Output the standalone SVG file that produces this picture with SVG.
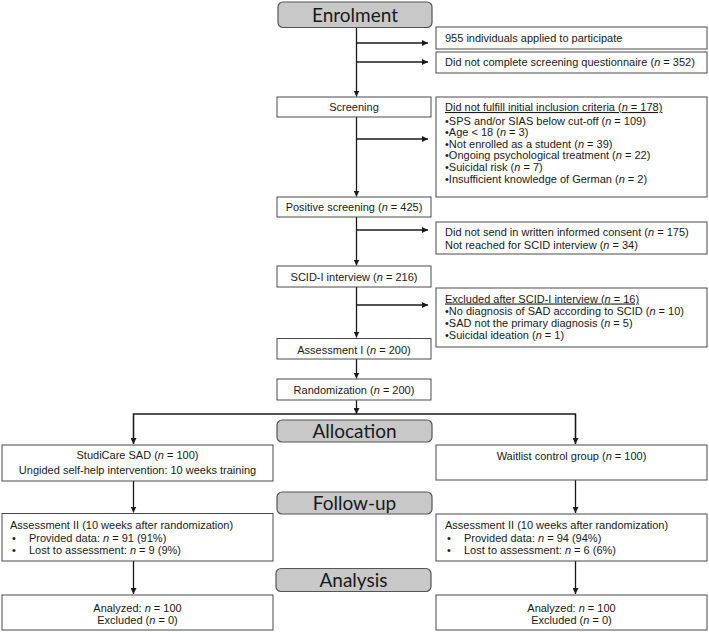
<svg xmlns="http://www.w3.org/2000/svg" width="709" height="632" viewBox="0 0 709 632">
<style>
.bg{fill:#ffffff}
.box{fill:#ffffff;stroke:#4a4a4a;stroke-width:1}
.hdr{fill:#c8c8c8;stroke:#555555;stroke-width:1.2}
.ht{font-family:Lato,"Open Sans","Liberation Sans",sans-serif;font-size:19px;fill:#1a1a1a;text-anchor:middle}
.t{font-family:"Liberation Sans",Arial,sans-serif;font-size:11px;fill:#1a1a1a}
.c{text-anchor:middle}
.i{font-style:italic}
.u{text-decoration:underline}
.ln{fill:none;stroke:#1a1a1a;stroke-width:1.3}
.ar{marker-end:url(#ah)}
</style>
<defs>
<marker id="ah" viewBox="0 0 8 8" refX="8" refY="4" markerWidth="6" markerHeight="6" markerUnits="userSpaceOnUse" orient="auto">
<path d="M0,0 L8,4 L0,8 z" fill="#1a1a1a"/>
</marker>
</defs>
<rect class="bg" x="0" y="0" width="709" height="632"/>

<g id="connectors">
<line class="ln ar" x1="356.5" y1="27" x2="356.5" y2="96.5"/>
<line class="ln ar" x1="356.5" y1="43" x2="428" y2="43"/>
<line class="ln ar" x1="356.5" y1="62" x2="428" y2="62"/>
<line class="ln ar" x1="356.5" y1="117" x2="356.5" y2="196.5"/>
<line class="ln ar" x1="356.5" y1="139" x2="428" y2="139"/>
<line class="ln ar" x1="356.5" y1="217" x2="356.5" y2="265.5"/>
<line class="ln ar" x1="356.5" y1="230" x2="428" y2="230"/>
<line class="ln ar" x1="356.5" y1="287" x2="356.5" y2="337.5"/>
<line class="ln ar" x1="356.5" y1="305" x2="428" y2="305"/>
<line class="ln ar" x1="356.5" y1="359" x2="356.5" y2="378.5"/>
<line class="ln ar" x1="356.5" y1="400" x2="356.5" y2="414"/>
<polyline class="ln" points="133.5,444 133.5,414 575.5,414 575.5,444"/>
<line class="ln ar" x1="133.5" y1="414" x2="133.5" y2="444"/>
<line class="ln ar" x1="575.5" y1="414" x2="575.5" y2="444"/>
<line class="ln ar" x1="133.5" y1="481" x2="133.5" y2="512.5"/>
<line class="ln ar" x1="575.5" y1="480" x2="575.5" y2="513"/>
<line class="ln ar" x1="133.5" y1="561" x2="133.5" y2="594"/>
<line class="ln ar" x1="575.5" y1="561" x2="575.5" y2="594"/>
</g>

<g id="enrolment">
<rect class="hdr" x="278" y="2" width="154" height="25.5" rx="5"/>
<text class="ht" x="355" y="21.5">Enrolment</text>
</g>
<g id="applied">
<rect class="box" x="436" y="27" width="271" height="22"/>
<text class="t" x="445" y="42">955 individuals applied to participate</text>
</g>
<g id="notcompleted">
<rect class="box" x="436" y="52" width="271" height="21"/>
<text class="t" x="445" y="66">Did not complete screening questionnaire (<tspan class="i">n</tspan> = 352)</text>
</g>
<g id="screening">
<rect class="box" x="277" y="97" width="154" height="20"/>
<text class="t c" x="354" y="111">Screening</text>
</g>
<g id="criteria">
<rect class="box" x="436" y="97" width="271" height="100"/>
<text class="t" x="445" y="111"><tspan class="u">Did not fulfill initial inclusion criteria (<tspan class="i">n</tspan> = 178)</tspan></text>
<text class="t" x="445" y="124.5">•SPS and/or SIAS below cut-off (<tspan class="i">n</tspan> = 109)</text>
<text class="t" x="445" y="136">•Age &lt; 18 (<tspan class="i">n</tspan> = 3)</text>
<text class="t" x="445" y="147.5">•Not enrolled as a student (<tspan class="i">n</tspan> = 39)</text>
<text class="t" x="445" y="159">•Ongoing psychological treatment (<tspan class="i">n</tspan> = 22)</text>
<text class="t" x="445" y="170.5">•Suicidal risk (<tspan class="i">n</tspan> = 7)</text>
<text class="t" x="445" y="182.5">•Insufficient knowledge of German (<tspan class="i">n</tspan> = 2)</text>
</g>
<g id="positive">
<rect class="box" x="277" y="197" width="154" height="20"/>
<text class="t c" x="354" y="211">Positive screening (<tspan class="i">n</tspan> = 425)</text>
</g>
<g id="consent">
<rect class="box" x="436" y="222" width="271" height="32"/>
<text class="t" x="445" y="235.5">Did not send in written informed consent (<tspan class="i">n</tspan> = 175)</text>
<text class="t" x="445" y="249">Not reached for SCID interview (<tspan class="i">n</tspan> = 34)</text>
</g>
<g id="scid">
<rect class="box" x="277" y="266" width="154" height="21"/>
<text class="t c" x="354" y="280.5">SCID-I interview (<tspan class="i">n</tspan> = 216)</text>
</g>
<g id="excluded">
<rect class="box" x="436" y="288" width="271" height="59"/>
<text class="t" x="445" y="302.5"><tspan class="u">Excluded after SCID-I interview (<tspan class="i">n</tspan> = 16)</tspan></text>
<text class="t" x="445" y="315">•No diagnosis of SAD according to SCID (<tspan class="i">n</tspan> = 10)</text>
<text class="t" x="445" y="327">•SAD not the primary diagnosis (<tspan class="i">n</tspan> = 5)</text>
<text class="t" x="445" y="339">•Suicidal ideation (<tspan class="i">n</tspan> = 1)</text>
</g>
<g id="assessment1">
<rect class="box" x="277" y="338.5" width="154" height="20.5"/>
<text class="t c" x="354" y="353.5">Assessment I (<tspan class="i">n</tspan> = 200)</text>
</g>
<g id="randomization">
<rect class="box" x="277" y="379" width="154" height="21"/>
<text class="t c" x="354" y="394">Randomization (<tspan class="i">n</tspan> = 200)</text>
</g>
<g id="allocation">
<rect class="hdr" x="277" y="420" width="155" height="22" rx="5"/>
<text class="ht" x="354.5" y="438">Allocation</text>
</g>
<g id="studicare">
<rect class="box" x="2" y="445" width="271" height="36"/>
<text class="t c" x="137.5" y="459">StudiCare SAD (<tspan class="i">n</tspan> = 100)</text>
<text class="t c" x="137.5" y="474">Ungided self-help intervention: 10 weeks training</text>
</g>
<g id="waitlist">
<rect class="box" x="436" y="445" width="271" height="35"/>
<text class="t c" x="571.5" y="460">Waitlist control group (<tspan class="i">n</tspan> = 100)</text>
</g>
<g id="followup">
<rect class="hdr" x="277" y="492" width="155" height="22" rx="5"/>
<text class="ht" x="354.5" y="510">Follow-up</text>
</g>
<g id="assessment2-left">
<rect class="box" x="2" y="513.5" width="271" height="47.5"/>
<text class="t" x="10" y="529">Assessment II (10 weeks after randomization)</text>
<text class="t" x="12" y="541.5">•</text>
<text class="t" x="29" y="541.5">Provided data: <tspan class="i">n</tspan> = 91 (91%)</text>
<text class="t" x="12" y="554">•</text>
<text class="t" x="29" y="554">Lost to assessment: <tspan class="i">n</tspan> = 9 (9%)</text>
</g>
<g id="assessment2-right">
<rect class="box" x="436" y="514" width="271" height="47"/>
<text class="t" x="445" y="529">Assessment II (10 weeks after randomization)</text>
<text class="t" x="447" y="541.5">•</text>
<text class="t" x="464" y="541.5">Provided data: <tspan class="i">n</tspan> = 94 (94%)</text>
<text class="t" x="447" y="554">•</text>
<text class="t" x="464" y="554">Lost to assessment: <tspan class="i">n</tspan> = 6 (6%)</text>
</g>
<g id="analysis">
<rect class="hdr" x="276" y="568.5" width="155" height="23" rx="5"/>
<text class="ht" x="353.5" y="587">Analysis</text>
</g>
<g id="analyzed-left">
<rect class="box" x="2" y="595" width="271" height="35"/>
<text class="t c" x="137.5" y="611.5">Analyzed: <tspan class="i">n</tspan> = 100</text>
<text class="t c" x="137.5" y="623.5">Excluded (<tspan class="i">n</tspan> = 0)</text>
</g>
<g id="analyzed-right">
<rect class="box" x="436" y="595" width="271" height="35"/>
<text class="t c" x="571.5" y="611.5">Analyzed: <tspan class="i">n</tspan> = 100</text>
<text class="t c" x="571.5" y="623.5">Excluded (<tspan class="i">n</tspan> = 0)</text>
</g>
</svg>
